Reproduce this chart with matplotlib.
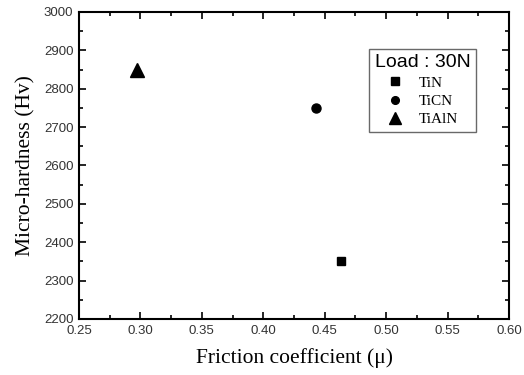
import matplotlib.pyplot as plt
from matplotlib.ticker import MultipleLocator

names = ['TiN', 'TiCN', 'TiAlN']
friction = [0.463, 0.443, 0.297]
hardness = [2350, 2750, 2850]
markers = ['s', 'o', '^']
msize = [6, 6.5, 9.5]

fig = plt.figure(figsize=(5.24, 3.75), dpi=100)
ax = fig.add_axes([79 / 524, 1 - 319 / 375, 430 / 524, 307 / 375])

for n, x, y, m, s in zip(names, friction, hardness, markers, msize):
    ax.plot(x, y, m, color='k', markersize=s, label=n, linestyle='none')

ax.set_xlim(0.25, 0.60)
ax.set_ylim(2200, 3000)
ax.xaxis.set_major_locator(MultipleLocator(0.05))
ax.xaxis.set_minor_locator(MultipleLocator(0.025))
ax.yaxis.set_major_locator(MultipleLocator(100))
ax.yaxis.set_minor_locator(MultipleLocator(50))
ax.tick_params(which='both', direction='in', top=True, right=True, width=1.2)
ax.tick_params(which='major', length=5, labelsize=9.5, pad=4)
ax.tick_params(which='minor', length=3)
ax.set_xticks(ax.get_xticks())
ax.set_xticklabels([f'{v:.2f}' for v in ax.get_xticks()])
for lab in ax.get_xticklabels() + ax.get_yticklabels():
    lab.set_family('Liberation Sans')
    lab.set_color('#333333')
ax.set_xlim(0.25, 0.60)
for sp in ax.spines.values():
    sp.set_linewidth(1.5)

ax.set_xlabel('Friction coefficient (μ)', family='Liberation Serif', fontsize=15.5, labelpad=8)
ax.set_ylabel('Micro-hardness (Hv)', family='Liberation Serif', fontsize=15.5, labelpad=6)

leg = ax.legend(title='Load : 30N', loc='upper right', bbox_to_anchor=(0.923, 0.879),
                borderaxespad=0,
                prop={'family': 'Liberation Serif', 'size': 11},
                title_fontproperties={'family': 'Liberation Sans', 'size': 14},
                fancybox=False, edgecolor='#444444', handlelength=1.0,
                handletextpad=1.0, labelspacing=0.3, borderpad=0.35, markerscale=0.85)
leg.get_frame().set_linewidth(1.0)

plt.savefig('out.png', dpi=100)
